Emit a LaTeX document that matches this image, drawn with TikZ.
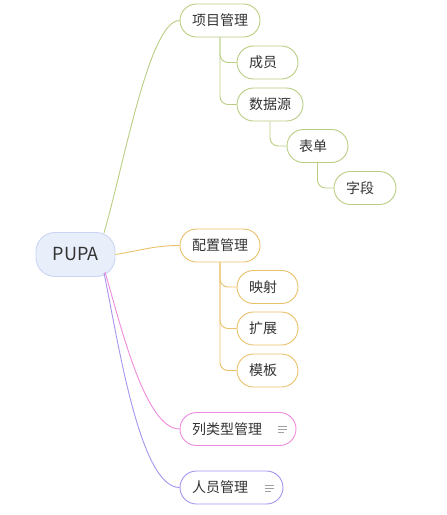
\documentclass[tikz,border=0pt]{standalone}
\usepackage{fontspec}
\setmainfont{Noto Sans CJK SC}
\usetikzlibrary{calc}
\definecolor{gline}{HTML}{B9CD83}
\definecolor{oline}{HTML}{E9C16A}
\definecolor{pline}{HTML}{EE8BDC}
\definecolor{vline}{HTML}{A893EE}
\definecolor{rootfill}{HTML}{E9EEFB}
\definecolor{rootdraw}{HTML}{C9D5F3}
\definecolor{txt}{HTML}{333333}
\definecolor{icon}{HTML}{A0A0A0}
\tikzset{
  box/.style={draw=#1, line width=0.9pt, fill=white, rounded corners=16.5pt,
    minimum height=33pt, inner xsep=12pt, inner ysep=0pt, align=left,
    text=txt, font=\fontsize{14}{16}\selectfont},
  conn/.style={draw=#1, line width=0.9pt},
  elbow/.style={draw=#1, line width=0.9pt, rounded corners=8pt},
  noteicon/.style={draw=icon, line width=0.8pt}
}
\begin{document}
\begin{tikzpicture}[x=1pt,y=-1pt]
\useasboundingbox (0,0) rectangle (447,515);
% root
\node[draw=rootdraw, fill=rootfill, line width=0.9pt, rounded corners=19pt,
  minimum width=79pt, minimum height=44pt, text=txt,
  font=\fontsize{18}{20}\selectfont] (root) at (75.5,254.5) {PUPA};
\coordinate (rt) at ($(root.center)+(28.5,-21.5)$);
\coordinate (rp) at ($(root.center)+(29.5,17.5)$);
\coordinate (rv) at ($(root.center)+(28.5,18.5)$);
% first level
\node[box=gline, text width=56pt] (xm) at (220,20.5) {项目管理};
\node[box=gline, text width=37pt] (cy) at (267.5,62.5) {成员};
\node[box=gline, text width=42pt] (sj) at (270,104.5) {数据源};
\node[box=gline, text width=37pt] (bd) at (317.5,146) {表单};
\node[box=gline, text width=38pt] (zd) at (365,188) {字段};
\node[box=oline, text width=56pt] (pz) at (220,245.5) {配置管理};
\node[box=oline, text width=37pt] (ys) at (267.5,287) {映射};
\node[box=oline, text width=37pt] (kz) at (267.5,328.5) {扩展};
\node[box=oline, text width=37pt] (mb) at (267.5,370.5) {模板};
\node[box=pline, text width=92pt] (lx) at (238,429) {列类型管理};
\node[box=vline, text width=79pt] (ry) at (231.5,487.5) {人员管理};
% root connectors
\draw[conn=gline] (rt) .. controls +(21,-73) and +(-30,0) .. (xm.west);
\draw[conn=oline] (root.east) .. controls +(25,-4) and +(-25,0) .. (pz.west);
\draw[conn=pline] (rp) .. controls +(15,50) and +(-35,0) .. (lx.west);
\draw[conn=vline] (rv) .. controls +(14,67) and +(-40,0) .. (ry.west);
% elbows
\draw[elbow=gline] (xm.south) |- (cy.west);
\draw[elbow=gline] (xm.south) |- (sj.west);
\draw[elbow=gline] (sj.south) |- (bd.west);
\draw[elbow=gline] (bd.south) |- (zd.west);
\draw[elbow=oline] (pz.south) |- (ys.west);
\draw[elbow=oline] (pz.south) |- (kz.west);
\draw[elbow=oline] (pz.south) |- (mb.west);
% note icons
\foreach \n in {lx,ry}{
  \draw[noteicon] ($(\n.east)+(-18,-2.5)$) -- ++(9,0);
  \draw[noteicon] ($(\n.east)+(-18,0.5)$) -- ++(9,0);
  \draw[noteicon] ($(\n.east)+(-18,3.5)$) -- ++(6,0);
}
\end{tikzpicture}
\end{document}
